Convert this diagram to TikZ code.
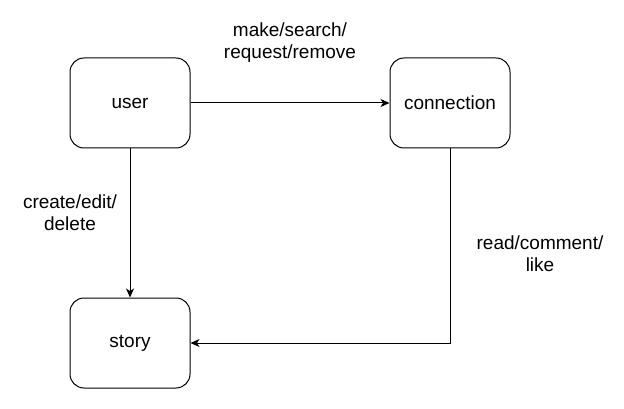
\documentclass[tikz,border=0pt]{standalone}
\usepackage{fontspec}
\setmainfont{Liberation Sans}
\usetikzlibrary{arrows.meta}
\begin{document}
\begin{tikzpicture}[x=1pt,y=-1pt,
  box/.style={draw=black, line width=1pt, rounded corners=14pt, minimum width=120pt, minimum height=90pt, inner sep=0pt, font=\fontsize{19pt}{22pt}\selectfont},
  conn/.style={draw=black, line width=1pt, -{Stealth[length=9pt,width=8pt,inset=2.5pt]}},
  lbl/.style={align=center, font=\fontsize{19pt}{22pt}\selectfont, inner sep=0pt}]
\useasboundingbox (0,0) rectangle (624,409);
\node[box] (user) at (130,103) {user};
\node[box] (connection) at (450,103) {connection};
\node[box] (story) at (130,343) {story};
\coordinate (corner) at (450,343);
\draw[conn] (user.east) -- (connection.west);
\draw[conn] (user.south) -- (story.north);
\draw[conn] (connection.south) -- (corner) -- (story.east);
\node[lbl] (l1) at (290,43) {make/search/\\request/remove};
\node[lbl] (l2) at (70,213) {create/edit/\\delete};
\node[lbl] (l3) at (540,254) {read/comment/\\like};
\end{tikzpicture}
\end{document}
